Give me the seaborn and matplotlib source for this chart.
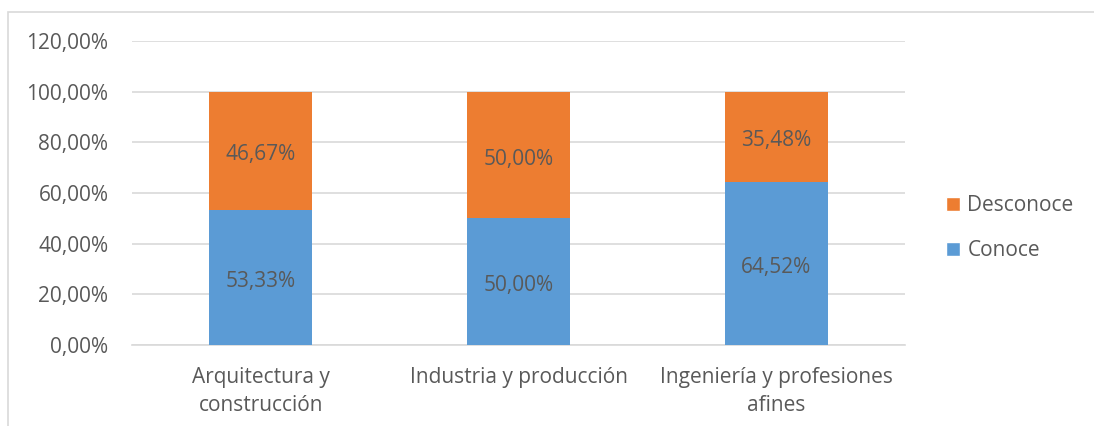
import matplotlib
matplotlib.use("Agg")
import matplotlib.pyplot as plt
import seaborn as sns
import pandas as pd
from matplotlib.patches import Patch, Rectangle

categorias = ["Arquitectura y\nconstrucción", "Industria y producción", "Ingeniería y profesiones\nafines"]
conoce = [53.33, 50.00, 64.52]
desconoce = [46.67, 50.00, 35.48]
ticks_y = [0, 20, 40, 60, 80, 100, 120]

AZUL = "#5B9BD5"
NARANJA = "#ED7D31"
GRIS_TEXTO = "#595959"
GRIS_LINEA = "#D9D9D9"
FS = 15

sns.set_theme(style="white")
plt.rcParams["font.family"] = ["Open Sans", "DejaVu Sans"]

df = pd.DataFrame({"categoria": categorias, "Conoce": conoce, "Desconoce": desconoce})
df["total"] = df["Conoce"] + df["Desconoce"]

fig = plt.figure(figsize=(10.94, 4.26), dpi=100)
ax = fig.add_axes([0.1207, 0.1901, 0.7065, 0.7137])

# Stacked bars: full stack in orange, the "Conoce" part drawn over it in blue
sns.barplot(data=df, x="categoria", y="total", color=NARANJA, saturation=1,
            width=0.4, ax=ax, zorder=3, linewidth=0, edgecolor="none")
sns.barplot(data=df, x="categoria", y="Conoce", color=AZUL, saturation=1,
            width=0.4, ax=ax, zorder=4, linewidth=0, edgecolor="none")

def fmt(v):
    return f"{v:.2f}".replace(".", ",") + "%"

for i, (c, d) in enumerate(zip(conoce, desconoce)):
    for y, v in ((c / 2, c), (c + d / 2, d)):
        ax.annotate(fmt(v), xy=(i, y), xytext=(0, -3), textcoords="offset points",
                    ha="center", va="center", fontsize=FS, color=GRIS_TEXTO,
                    zorder=5)

ax.set_ylim(0, 120)
ax.set_xlim(-0.5, 2.5)
ax.set_yticks(ticks_y)
ax.set_yticklabels([fmt(t) for t in ticks_y], fontsize=FS, color=GRIS_TEXTO)
ax.tick_params(axis="x", labelsize=FS, labelcolor=GRIS_TEXTO, length=0, pad=16)
ax.tick_params(axis="y", length=0, pad=17)
for lbl in ax.get_xticklabels():
    lbl.set_linespacing(1.45)
ax.set_xlabel("")
ax.set_ylabel("")
ax.yaxis.grid(True, color=GRIS_LINEA, linewidth=1.2, zorder=0)
ax.set_axisbelow(True)
for s in ["top", "right", "left"]:
    ax.spines[s].set_visible(False)
ax.spines["bottom"].set_color(GRIS_LINEA)
ax.spines["bottom"].set_linewidth(1.2)

handles = [Patch(facecolor=NARANJA, label="Desconoce"),
           Patch(facecolor=AZUL, label="Conoce")]
leg = fig.legend(handles=handles, loc="center left", bbox_to_anchor=(0.848, 0.465),
                 frameon=False, fontsize=FS, handlelength=0.65, handleheight=0.65,
                 handletextpad=0.35, labelspacing=1.15)
for t in leg.get_texts():
    t.set_color(GRIS_TEXTO)

# Chart area border
fig.patches.append(Rectangle((8 / 1094, -0.1), 1.2, 1 - 12 / 426 + 0.1,
                             transform=fig.transFigure, fill=False,
                             edgecolor=GRIS_LINEA, linewidth=1.2))

fig.savefig("out.png", dpi=100)
